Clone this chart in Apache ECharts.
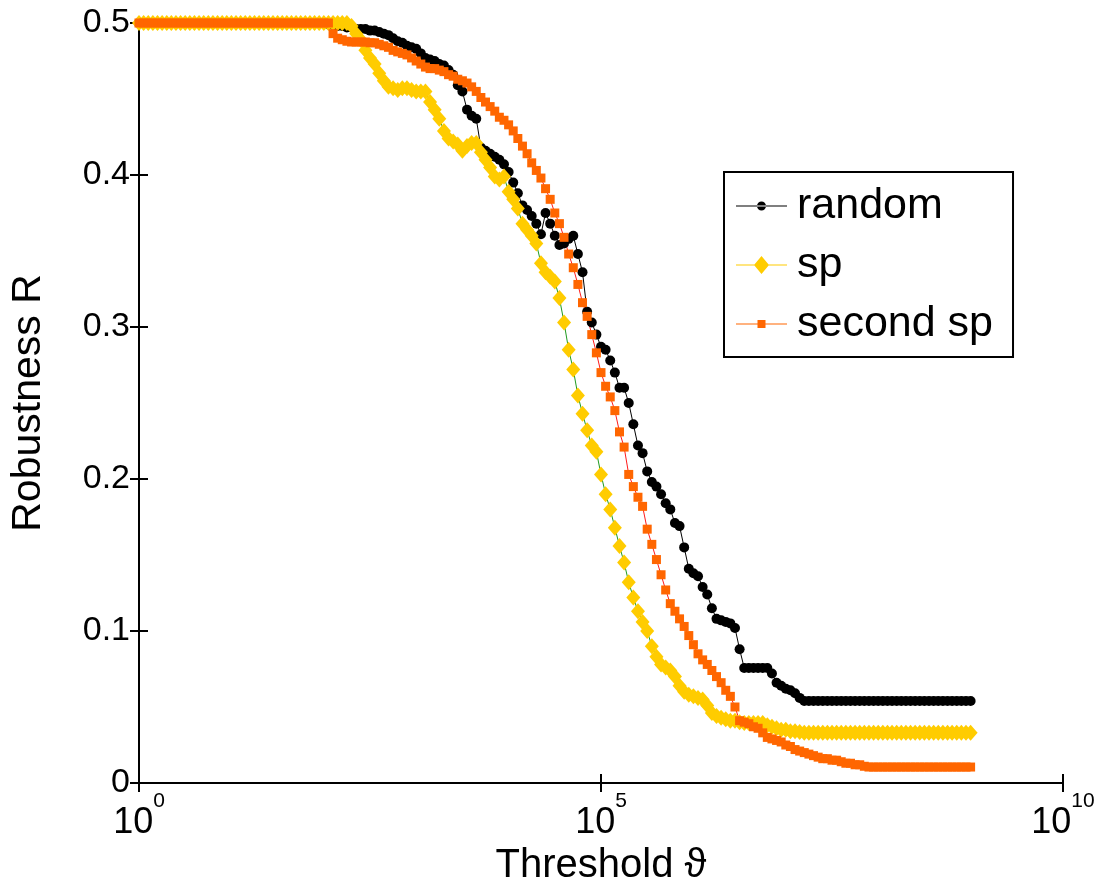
<!DOCTYPE html>
<html>
<head>
<meta charset="utf-8">
<script src="https://cdn.jsdelivr.net/npm/echarts@6/dist/echarts.min.js"></script>
<style>
html,body{margin:0;padding:0;background:#fff;}
#chart{width:1106px;height:877px;}
</style>
</head>
<body>
<div id="chart"></div>
<script>
// log10 of the threshold ϑ
const thresholdExp = [
0,0.05,0.1,0.15,0.2,0.25,0.3,0.35,0.4,0.45,0.5,0.55,0.6,0.65,0.7,0.75,0.8,0.85,0.9,0.95,
1,1.05,1.1,1.15,1.2,1.25,1.3,1.35,1.4,1.45,1.5,1.55,1.6,1.65,1.7,1.75,1.8,1.85,1.9,1.95,
2,2.05,2.1,2.15,2.2,2.25,2.3,2.35,2.4,2.45,2.5,2.55,2.6,2.65,2.7,2.75,2.8,2.85,2.9,2.95,
3,3.05,3.1,3.15,3.2,3.25,3.3,3.35,3.4,3.45,3.5,3.55,3.6,3.65,3.7,3.75,3.8,3.85,3.9,3.95,
4,4.05,4.1,4.15,4.2,4.25,4.3,4.35,4.4,4.45,4.5,4.55,4.6,4.65,4.7,4.75,4.8,4.85,4.9,4.95,
5,5.05,5.1,5.15,5.2,5.25,5.3,5.35,5.4,5.45,5.5,5.55,5.6,5.65,5.7,5.75,5.8,5.85,5.9,5.95,
6,6.05,6.1,6.15,6.2,6.25,6.3,6.35,6.4,6.45,6.5,6.55,6.6,6.65,6.7,6.75,6.8,6.85,6.9,6.95,
7,7.05,7.1,7.15,7.2,7.25,7.3,7.35,7.4,7.45,7.5,7.55,7.6,7.65,7.7,7.75,7.8,7.85,7.9,7.95,
8,8.05,8.1,8.15,8.2,8.25,8.3,8.35,8.4,8.45,8.5,8.55,8.6,8.65,8.7,8.75,8.8,8.85,8.9,8.95,
9
];

const randomR = [
0.5,0.5,0.5,0.5,0.5,0.5,0.5,0.5,0.5,0.5,0.5,0.5,0.5,0.5,0.5,0.5,0.5,0.5,0.5,0.5,
0.5,0.5,0.5,0.5,0.5,0.5,0.5,0.5,0.5,0.5,0.5,0.5,0.5,0.5,0.5,0.5,0.5,0.5,0.5,0.5,
0.5,0.499,0.499,0.498,0.498,0.497,0.497,0.496,0.496,0.496,0.495,0.495,0.494,0.493,0.492,0.490,0.488,0.487,0.485,0.484,
0.483,0.480,0.477,0.476,0.475,0.473,0.472,0.469,0.466,0.459,0.455,0.443,0.439,0.437,0.418,0.416,0.414,0.412,0.410,0.407,
0.402,0.395,0.388,0.380,0.377,0.373,0.368,0.361,0.375,0.368,0.360,0.354,0.355,0.358,0.360,0.348,0.336,0.310,0.303,0.295,
0.287,0.285,0.278,0.270,0.260,0.260,0.250,0.236,0.222,0.217,0.205,0.198,0.195,0.190,0.184,0.180,0.171,0.169,0.155,0.141,
0.138,0.136,0.129,0.124,0.115,0.108,0.107,0.106,0.105,0.102,0.088,0.0757,0.0757,0.0757,0.0757,0.0757,0.0757,0.072,0.066,0.064,
0.062,0.061,0.059,0.056,0.054,0.054,0.054,0.054,0.054,0.054,0.054,0.054,0.054,0.054,0.054,0.054,0.054,0.054,0.054,0.054,
0.054,0.054,0.054,0.054,0.054,0.054,0.054,0.054,0.054,0.054,0.054,0.054,0.054,0.054,0.054,0.054,0.054,0.054,0.054,0.054,
0.054
];

const spR = [
0.5,0.5,0.5,0.5,0.5,0.5,0.5,0.5,0.5,0.5,0.5,0.5,0.5,0.5,0.5,0.5,0.5,0.5,0.5,0.5,
0.5,0.5,0.5,0.5,0.5,0.5,0.5,0.5,0.5,0.5,0.5,0.5,0.5,0.5,0.5,0.5,0.5,0.5,0.5,0.5,
0.5,0.5,0.5,0.5,0.5,0.5,0.498,0.493,0.489,0.482,0.477,0.473,0.467,0.462,0.458,0.457,0.456,0.457,0.457,0.456,
0.455,0.455,0.455,0.448,0.443,0.437,0.429,0.424,0.422,0.420,0.416,0.419,0.421,0.421,0.415,0.410,0.405,0.399,0.397,0.399,
0.389,0.384,0.378,0.368,0.364,0.360,0.355,0.342,0.336,0.333,0.330,0.319,0.303,0.285,0.272,0.255,0.243,0.232,0.222,0.218,
0.203,0.190,0.180,0.168,0.156,0.145,0.132,0.122,0.113,0.106,0.100,0.090,0.083,0.078,0.076,0.074,0.070,0.064,0.060,0.058,
0.057,0.056,0.055,0.051,0.046,0.044,0.043,0.042,0.041,0.041,0.040,0.0395,0.0395,0.0395,0.0395,0.0395,0.038,0.037,0.036,0.035,
0.035,0.034,0.034,0.0335,0.033,0.033,0.033,0.033,0.033,0.033,0.033,0.033,0.033,0.033,0.033,0.033,0.033,0.033,0.033,0.033,
0.033,0.033,0.033,0.033,0.033,0.033,0.033,0.033,0.033,0.033,0.033,0.033,0.033,0.033,0.033,0.033,0.033,0.033,0.033,0.033,
0.033
];

const secondSpR = [
0.5,0.5,0.5,0.5,0.5,0.5,0.5,0.5,0.5,0.5,0.5,0.5,0.5,0.5,0.5,0.5,0.5,0.5,0.5,0.5,
0.5,0.5,0.5,0.5,0.5,0.5,0.5,0.5,0.5,0.5,0.5,0.5,0.5,0.5,0.5,0.5,0.5,0.5,0.5,0.5,
0.5,0.5,0.493,0.490,0.489,0.488,0.4875,0.4875,0.4875,0.4875,0.487,0.487,0.486,0.485,0.484,0.482,0.481,0.480,0.479,0.477,
0.475,0.473,0.471,0.470,0.470,0.469,0.468,0.466,0.465,0.463,0.462,0.4605,0.458,0.455,0.451,0.448,0.445,0.442,0.438,0.436,
0.433,0.429,0.424,0.419,0.414,0.408,0.403,0.398,0.391,0.384,0.375,0.368,0.359,0.348,0.339,0.328,0.316,0.307,0.295,0.283,
0.270,0.261,0.254,0.245,0.231,0.221,0.203,0.195,0.188,0.182,0.167,0.157,0.147,0.137,0.127,0.118,0.113,0.108,0.103,0.097,
0.091,0.085,0.081,0.078,0.074,0.070,0.066,0.061,0.057,0.050,0.041,0.040,0.039,0.037,0.036,0.033,0.030,0.029,0.028,0.027,
0.025,0.024,0.022,0.021,0.020,0.019,0.018,0.017,0.016,0.016,0.015,0.015,0.014,0.013,0.013,0.012,0.012,0.011,0.0105,0.0105,
0.0105,0.0105,0.0105,0.0105,0.0105,0.0105,0.0105,0.0105,0.0105,0.0105,0.0105,0.0105,0.0105,0.0105,0.0105,0.0105,0.0105,0.0105,0.0105,0.0105,
0.0105
];

const seriesNames = ['random', 'sp', 'second sp'];
const xTickExp = [0, 5, 10];
const yTickLabels = ['0', '0.1', '0.2', '0.3', '0.4', '0.5'];

const FONT = '"Liberation Sans", Arial, Helvetica, sans-serif';

function pairs(ys) { return thresholdExp.map((e, i) => [e, ys[i]]); }

// legend icons (51 x 18 box): thin line with the marker in the middle
const ICON_BOX = 'M0 0Z M51 18Z ';
const ICON_LINE = 'M0 8.5H51V9.5H0Z ';
const iconCircle = 'path://' + ICON_BOX + ICON_LINE + 'M21 9A4.5 4.5 0 1 0 30 9A4.5 4.5 0 1 0 21 9Z';
const iconDiamond = 'path://' + ICON_BOX + ICON_LINE + 'M18 9L25.5 0L33 9L25.5 18Z';
const iconSquare = 'path://' + ICON_BOX + ICON_LINE + 'M21.5 5H29.5V13H21.5Z';

const axisLineStyle = { lineStyle: { color: '#000', width: 2 } };
const tickStyle = { inside: true, length: 9, lineStyle: { color: '#000', width: 2 } };

const chart = echarts.init(document.getElementById('chart'), null, { renderer: 'canvas' });
chart.setOption({
  animation: false,
  backgroundColor: '#ffffff',
  grid: { left: 139, top: 23, right: 43, bottom: 94, containLabel: false, outerBoundsMode: 'none' },
  xAxis: [
    {
      type: 'value', position: 'bottom', min: xTickExp[0], max: xTickExp[2], interval: 5,
      axisLine: axisLineStyle, axisTick: tickStyle, splitLine: { show: false },
      axisLabel: {
        margin: 8,
        formatter: v => '{b|10}{s|' + v + '}',
        rich: {
          b: { fontFamily: FONT, fontSize: 36, lineHeight: 50, color: '#000', verticalAlign: 'bottom' },
          s: { fontFamily: FONT, fontSize: 21, lineHeight: 21, color: '#000', verticalAlign: 'top' }
        }
      },
      name: 'Threshold ϑ', nameLocation: 'middle', nameGap: 50,
      nameTextStyle: { fontFamily: FONT, fontSize: 40, color: '#000' }
    },
    {
      type: 'value', position: 'top', min: xTickExp[0], max: xTickExp[2], interval: 5,
      axisLine: axisLineStyle, axisTick: tickStyle, splitLine: { show: false },
      axisLabel: { show: false }
    }
  ],
  yAxis: [
    {
      type: 'value', position: 'left', min: 0, max: 0.5, interval: 0.1,
      axisLine: axisLineStyle, axisTick: tickStyle, splitLine: { show: false },
      axisLabel: {
        margin: 9, fontFamily: FONT, fontSize: 34, color: '#000',
        formatter: v => yTickLabels[Math.round(v * 10)]
      },
      name: 'Robustness R', nameLocation: 'middle', nameGap: 90,
      nameTextStyle: { fontFamily: FONT, fontSize: 41, color: '#000' }
    },
    {
      type: 'value', position: 'right', min: 0, max: 0.5, interval: 0.1,
      axisLine: axisLineStyle, axisTick: tickStyle, splitLine: { show: false },
      axisLabel: { show: false }
    }
  ],
  legend: {
    orient: 'vertical',
    left: 724, top: 172,
    padding: [9, 20, 8, 12],
    backgroundColor: '#fff',
    borderColor: '#000', borderWidth: 2,
    itemWidth: 51, itemHeight: 18, itemGap: 9,
    textStyle: { fontFamily: FONT, fontSize: 43, color: '#000', lineHeight: 50, padding: [0, 0, 0, 5] },
    data: [
      { name: seriesNames[0], icon: iconCircle, itemStyle: { color: '#000000' } },
      { name: seriesNames[1], icon: iconDiamond, itemStyle: { color: '#ffcc00' } },
      { name: seriesNames[2], icon: iconSquare, itemStyle: { color: '#ff6600' } }
    ]
  },
  series: [
    {
      name: seriesNames[0], type: 'line', data: pairs(randomR), clip: false,
      symbol: 'circle', symbolSize: 10, showSymbol: true,
      itemStyle: { color: '#000000', borderWidth: 0 },
      lineStyle: { color: '#000000', width: 1 }
    },
    {
      name: seriesNames[1], type: 'line', data: pairs(spR), clip: false,
      symbol: 'diamond', symbolSize: [14, 16], showSymbol: true,
      itemStyle: { color: '#ffcc00', borderWidth: 0 },
      lineStyle: { color: '#1f9a1f', width: 1 }
    },
    {
      name: seriesNames[2], type: 'line', data: pairs(secondSpR), clip: false,
      symbol: 'rect', symbolSize: 9, showSymbol: true,
      itemStyle: { color: '#ff6600', borderWidth: 0 },
      lineStyle: { color: '#ff1a1a', width: 1 }
    }
  ]
});
</script>
</body>
</html>
